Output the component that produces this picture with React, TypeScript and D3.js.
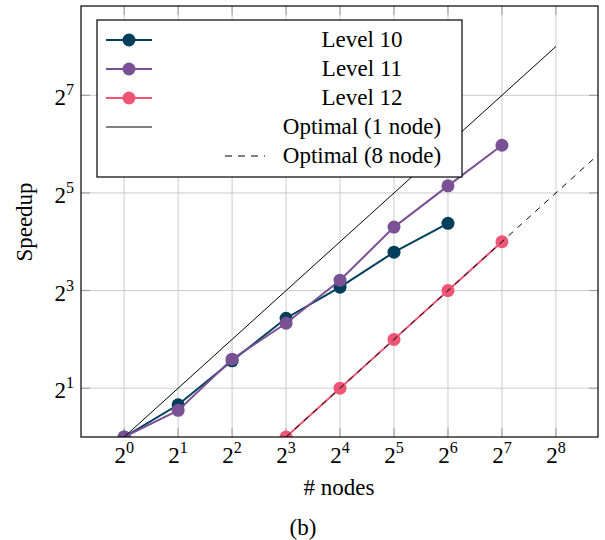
import React from 'react';
import * as d3 from 'd3';

// Speedup measurements per refinement level, indexed by node count
const nodeCounts = [1, 2, 4, 8, 16, 32, 64, 128];
const level10Speedup = [1, 1.58, 2.95, 5.4, 8.4, 13.8, 20.8];
const level11Speedup = [1, 1.46, 3.02, 5.03, 9.27, 19.7, 35.4, 63];
const level12Nodes = [8, 16, 32, 64, 128];
const level12Speedup = [1, 2, 4, 8, 16];
// Ideal scaling references
const optimal1Nodes = [1, 256];
const optimal1Speedup = [1, 256];
const optimal8Nodes = [8, 512];
const optimal8Speedup = [1, 64];

const xTickExps = [0, 1, 2, 3, 4, 5, 6, 7, 8];
const yTickExps = [1, 3, 5, 7];

const seriesNames = ['Level 10', 'Level 11', 'Level 12', 'Optimal (1 node)', 'Optimal (8 node)'];
const seriesColors = ['#003f5c', '#7a5195', '#ef5675'];

const W = 605;
const H = 540;
const left = 81;
const right = 598;
const top = 6;
const bottom = 437;
const FONT = '"Liberation Serif", "DejaVu Serif", serif';
const FS = 23;

export default function App() {
  const x = d3.scaleLog().base(2).domain([2 ** -0.8, 2 ** 8.78]).range([left, right]);
  const y = d3.scaleLog().base(2).domain([1, 2 ** 8.83]).range([bottom, top]);
  const line = d3
    .line<[number, number]>()
    .x((d) => x(d[0]))
    .y((d) => y(d[1]));

  const markerSeries: { pts: [number, number][]; color: string }[] = [
    { pts: level10Speedup.map((v, i) => [nodeCounts[i], v]), color: seriesColors[0] },
    { pts: level11Speedup.map((v, i) => [nodeCounts[i], v]), color: seriesColors[1] },
    { pts: level12Speedup.map((v, i) => [level12Nodes[i], v]), color: seriesColors[2] },
  ];
  const opt1: [number, number][] = optimal1Nodes.map((n, i) => [n, optimal1Speedup[i]]);
  const opt8: [number, number][] = optimal8Nodes.map((n, i) => [n, optimal8Speedup[i]]);

  const gridColor = '#cccccc';
  const tickColor = '#9a9a9a';
  const tickLen = 9;

  const legendX = 97;
  const legendY = 20;
  const legendW = 365;
  const legendH = 157;
  const rowY = (i: number) => 40 + i * 29;
  const textCx = 362;

  return (
    <svg
      width={W}
      height={H}
      style={{ position: 'absolute', left: 0, top: 0, background: '#fff' }}
      fontFamily={FONT}
    >
      <defs>
        <clipPath id="plotClip">
          <rect x={left} y={top} width={right - left} height={bottom - top} />
        </clipPath>
      </defs>
      <rect width={W} height={H} fill="#fff" />

      {/* grid */}
      {xTickExps.map((e) => (
        <line key={'gx' + e} x1={x(2 ** e)} x2={x(2 ** e)} y1={top} y2={bottom} stroke={gridColor} strokeWidth={1} />
      ))}
      {yTickExps.map((e) => (
        <line key={'gy' + e} x1={left} x2={right} y1={y(2 ** e)} y2={y(2 ** e)} stroke={gridColor} strokeWidth={1} />
      ))}

      {/* tick marks on all sides */}
      {xTickExps.map((e) => (
        <g key={'tx' + e} stroke={tickColor} strokeWidth={1}>
          <line x1={x(2 ** e)} x2={x(2 ** e)} y1={bottom} y2={bottom - tickLen} />
          <line x1={x(2 ** e)} x2={x(2 ** e)} y1={top} y2={top + tickLen} />
        </g>
      ))}
      {yTickExps.map((e) => (
        <g key={'ty' + e} stroke={tickColor} strokeWidth={1}>
          <line x1={left} x2={left + tickLen} y1={y(2 ** e)} y2={y(2 ** e)} />
          <line x1={right} x2={right - tickLen} y1={y(2 ** e)} y2={y(2 ** e)} />
        </g>
      ))}

      {/* data */}
      <g clipPath="url(#plotClip)">
        {markerSeries.map((s, i) => (
          <g key={'s' + i}>
            <path d={line(s.pts) || ''} fill="none" stroke={s.color} strokeWidth={2} />
            {s.pts.map((p, j) => (
              <circle key={j} cx={x(p[0])} cy={y(p[1])} r={6.5} fill={s.color} />
            ))}
          </g>
        ))}
        <path d={line(opt1) || ''} fill="none" stroke="#000" strokeWidth={1} />
        <path d={line(opt8) || ''} fill="none" stroke="#000" strokeWidth={1} strokeDasharray="6 6" />
      </g>

      {/* frame */}
      <rect x={left} y={top} width={right - left} height={bottom - top} fill="none" stroke="#000" strokeWidth={1.2} />

      {/* x tick labels */}
      {xTickExps.map((e) => (
        <text key={'lx' + e} x={x(2 ** e)} y={463} textAnchor="middle" fontSize={FS} fill="#000">
          2<tspan fontSize={FS * 0.7} dy={-10}>{e}</tspan>
        </text>
      ))}
      {/* y tick labels */}
      {yTickExps.map((e) => (
        <text key={'ly' + e} x={74} y={y(2 ** e) + 10} textAnchor="end" fontSize={FS} fill="#000">
          2<tspan fontSize={FS * 0.7} dy={-10}>{e}</tspan>
        </text>
      ))}

      {/* axis titles */}
      <text x={339} y={495} textAnchor="middle" fontSize={FS} fill="#000">
        # nodes
      </text>
      <text
        transform={`translate(32, 222) rotate(-90)`}
        textAnchor="middle"
        fontSize={FS}
        fill="#000"
      >
        Speedup
      </text>
      <text x={303} y={535} textAnchor="middle" fontSize={FS} fill="#000">
        (b)
      </text>

      {/* legend */}
      <rect x={legendX} y={legendY} width={legendW} height={legendH} fill="#fff" stroke="#000" strokeWidth={1.2} />
      {seriesNames.map((name, i) => (
        <g key={'lg' + i}>
          {i < 3 && (
            <>
              <line x1={106} x2={152} y1={rowY(i)} y2={rowY(i)} stroke={seriesColors[i]} strokeWidth={2} />
              <circle cx={129} cy={rowY(i)} r={6.5} fill={seriesColors[i]} />
            </>
          )}
          {i === 3 && <line x1={106} x2={152} y1={rowY(i)} y2={rowY(i)} stroke="#000" strokeWidth={1} />}
          {i === 4 && (
            <line x1={225} x2={265} y1={rowY(i)} y2={rowY(i)} stroke="#000" strokeWidth={1} strokeDasharray="7 6" />
          )}
          <text x={textCx} y={rowY(i) + 7} textAnchor="middle" fontSize={FS} fill="#000">
            {name}
          </text>
        </g>
      ))}
    </svg>
  );
}
